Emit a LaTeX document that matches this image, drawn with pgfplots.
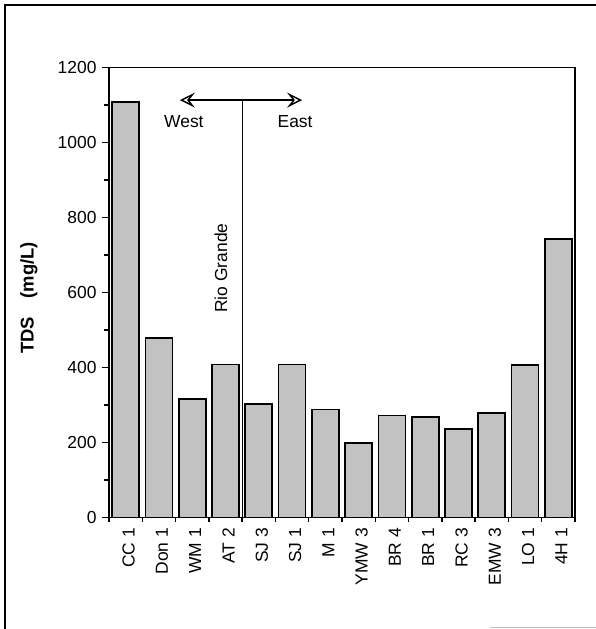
\documentclass[border=0pt]{standalone}
\usepackage{fontspec}
\setmainfont{Liberation Sans}
\usepackage{pgfplots}
\pgfplotsset{compat=1.18}
\usetikzlibrary{arrows.meta}
\definecolor{barfill}{gray}{0.76}
\newcommand{\lblfont}{\fontsize{17.5}{21}\selectfont}
\begin{document}
\begin{tikzpicture}
\useasboundingbox (0,0) rectangle (596bp,629bp);
\draw[line width=2bp] (5bp,0) -- (5bp,624bp) -- (596bp,624bp);
\draw[gray!50, line width=1bp] (490bp,1.5bp) -- (596bp,1.5bp);
\begin{axis}[
  at={(109bp,111.5bp)}, anchor=south west,
  scale only axis, width=466bp, height=450bp,
  xmin=-0.5, xmax=13.5, ymin=0, ymax=1200,
  ybar, bar width=27bp,
  tick pos=left,
  xtick={0,...,13},
  xticklabels={CC 1, Don 1, WM 1, AT 2, SJ 3, SJ 1, M 1, YMW 3, BR 4, BR 1, RC 3, EMW 3, LO 1, 4H 1},
  major x tick style={draw=none},
  minor xtick={-0.5,0.5,...,13.5},
  ytick={0,200,...,1200}, minor ytick={100,300,...,1100},
  tick align=outside,
  major tick length=7bp, minor tick length=4.5bp,
  axis line style={line width=1.8bp},
  tick style={line width=1.3bp, black},
  /pgf/number format/assume math mode=true,
  /pgf/number format/1000 sep={},
  tick label style={font=\lblfont},
  xticklabel style={rotate=90, anchor=east, yshift=-3bp},
  yticklabel style={xshift=-2bp},
  ylabel={\textbf{TDS\quad (mg/L)}},
  every axis y label/.style={at={(axis description cs:-0.172,0.488)}, rotate=90, anchor=center, font=\fontsize{18.5}{22}\selectfont},
]
\addplot[fill=barfill, draw=black, line width=1.8bp] coordinates {
(0,1107) (1,479) (2,315) (3,408) (4,302) (5,408) (6,288) (7,199) (8,272) (9,269) (10,237) (11,278) (12,407) (13,742)};
\draw[line width=1.1bp] (axis cs:3.5,0) -- (axis cs:3.5,1113);
\draw[line width=1.4bp, {Stealth[open,length=15bp,width=15bp,inset=6bp]}-{Stealth[open,length=15bp,width=15bp,inset=6bp]}] (axis cs:1.63,1113) -- (axis cs:5.3,1113);
\node[font=\lblfont] at (axis cs:1.75,1055) {West};
\node[font=\lblfont] at (axis cs:5.09,1055) {East};
\node[font=\lblfont, rotate=90] at (axis cs:2.86,665) {Rio Grande};
\end{axis}
\end{tikzpicture}
\end{document}
